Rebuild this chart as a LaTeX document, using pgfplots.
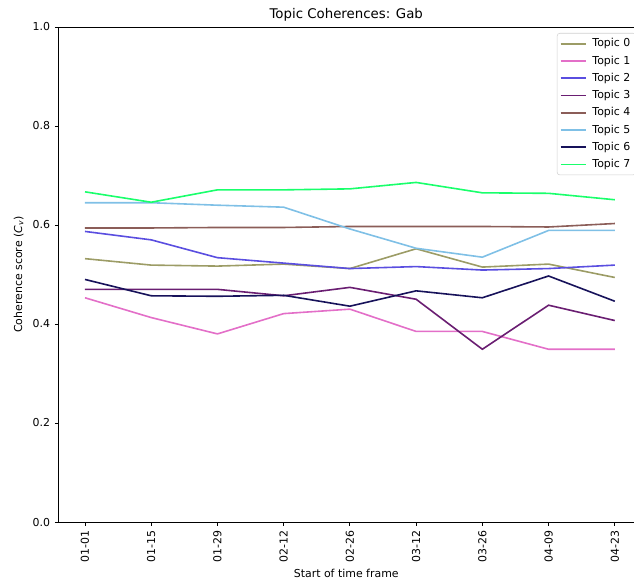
\documentclass[border=0pt]{standalone}
\usepackage{fontspec}
\setmainfont{DejaVu Sans}
\usepackage{pgfplots}
\pgfplotsset{compat=1.18}
\definecolor{c0}{HTML}{9C9C66}
\definecolor{c1}{HTML}{E36FC8}
\definecolor{c2}{HTML}{5A4EE0}
\definecolor{c3}{HTML}{6A1E72}
\definecolor{c4}{HTML}{8B5D58}
\definecolor{c5}{HTML}{7FC0E6}
\definecolor{c6}{HTML}{17125A}
\definecolor{c7}{HTML}{19FF6B}
\begin{document}
\begin{tikzpicture}
\begin{axis}[
  at={(0,0)}, anchor=south west,
  scale only axis, width=431.6pt, height=371.25pt,
  xmin=-0.4, xmax=8.29, ymin=0, ymax=1,
  separate axis lines,
  axis x line*=box, axis y line*=left,
  x axis line style={-}, y axis line style={-},
  axis line style={line width=0.6pt},
  tick align=outside, xtick pos=left, ytick pos=left,
  major tick length=2.8pt,
  tick style={black, line width=0.6pt},
  xtick={0,...,8},
  xticklabels={01-01,01-15,01-29,02-12,02-26,03-12,03-26,04-09,04-23},
  xticklabel style={rotate=90, anchor=east, font=\fontsize{8.2}{9.8}\selectfont},
  ytick={0,0.2,0.4,0.6,0.8,1.0},
  yticklabel style={font=\fontsize{8.2}{9.8}\selectfont},
  /pgf/number format/fixed, /pgf/number format/fixed zerofill,
  /pgf/number format/precision=1, /pgf/number format/assume math mode=true,
  title={Topic Coherences: Gab},
  title style={font=\fontsize{10}{12}\selectfont, yshift=-5pt},
  xlabel={Start of time frame},
  xlabel style={yshift=1.5pt},
  ylabel={Coherence score (\emph{C}\textsubscript{\emph{v}})},
  label style={font=\fontsize{8.2}{9.8}\selectfont},
  legend style={at={(1,1)}, anchor=north east, xshift=1.5pt, yshift=-4.5pt,
    draw=black!18, rounded corners=2pt, font=\fontsize{8.2}{9.8}\selectfont,
    row sep=1.2pt, inner sep=2pt,
    /tikz/every odd column/.append style={column sep=2.5pt}},
  legend cell align=left,
  legend image code/.code={\draw[#1, line width=1.2pt] (0cm,0cm) -- (0.66cm,0cm);},
  every axis plot/.append style={line width=1.2pt},
]
\addplot[c0, line width=1.2pt] coordinates {(0,0.532)(1,0.519)(2,0.517)(3,0.521)(4,0.512)(5,0.552)(6,0.515)(7,0.521)(8,0.494)};
\addplot[c1, line width=1.2pt] coordinates {(0,0.453)(1,0.413)(2,0.380)(3,0.421)(4,0.430)(5,0.385)(6,0.385)(7,0.349)(8,0.349)};
\addplot[c2, line width=1.2pt] coordinates {(0,0.587)(1,0.570)(2,0.534)(3,0.523)(4,0.512)(5,0.516)(6,0.509)(7,0.512)(8,0.519)};
\addplot[c3, line width=1.2pt] coordinates {(0,0.470)(1,0.470)(2,0.470)(3,0.457)(4,0.474)(5,0.450)(6,0.349)(7,0.438)(8,0.407)};
\addplot[c4, line width=1.2pt] coordinates {(0,0.594)(1,0.594)(2,0.595)(3,0.595)(4,0.597)(5,0.597)(6,0.597)(7,0.596)(8,0.603)};
\addplot[c5, line width=1.2pt] coordinates {(0,0.645)(1,0.645)(2,0.640)(3,0.636)(4,0.592)(5,0.553)(6,0.535)(7,0.589)(8,0.589)};
\addplot[c6, line width=1.2pt] coordinates {(0,0.490)(1,0.457)(2,0.456)(3,0.458)(4,0.436)(5,0.467)(6,0.453)(7,0.497)(8,0.446)};
\addplot[c7, line width=1.2pt] coordinates {(0,0.667)(1,0.646)(2,0.671)(3,0.671)(4,0.673)(5,0.686)(6,0.665)(7,0.664)(8,0.651)};
\legend{Topic 0,Topic 1,Topic 2,Topic 3,Topic 4,Topic 5,Topic 6,Topic 7}
\end{axis}
\pgfresetboundingbox
\useasboundingbox (-43.875pt,-43.5pt) rectangle (431.6pt,391.5pt);
\end{tikzpicture}
\end{document}
